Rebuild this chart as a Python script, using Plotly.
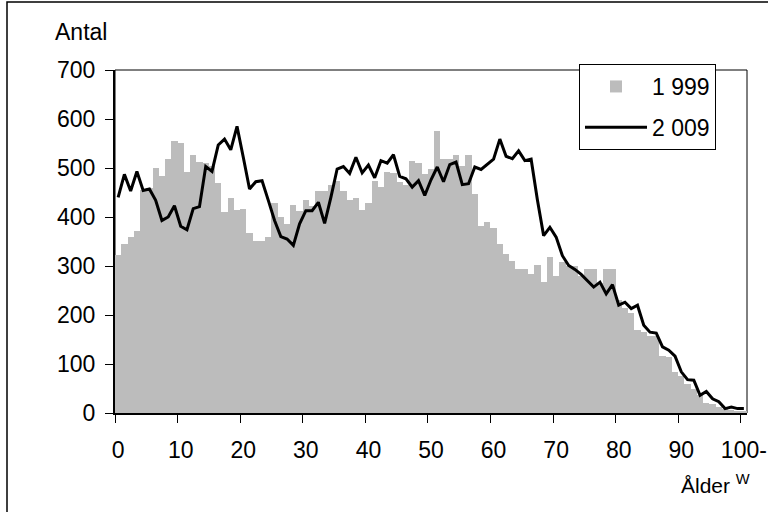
import plotly.graph_objects as go

ages = list(range(0, 101))
tick_vals = list(range(0, 101, 10))
tick_text = [str(v) for v in range(0, 100, 10)] + ["100-"]
y_ticks = list(range(0, 701, 100))

pop_1999 = [
    323, 344, 360, 372, 455, 460, 499, 483, 519, 556,
    552, 491, 527, 512, 511, 505, 470, 410, 438, 414,
    417, 368, 352, 352, 360, 429, 401, 385, 425, 413,
    434, 423, 454, 454, 466, 474, 454, 435, 438, 414,
    429, 474, 462, 491, 490, 472, 465, 515, 511, 487,
    498, 576, 519, 519, 527, 505, 527, 446, 381, 389,
    377, 344, 324, 311, 294, 294, 284, 303, 267, 319,
    279, 308, 300, 299, 280, 294, 294, 265, 294, 294,
    230, 215, 205, 170, 165, 158, 158, 116, 114, 84,
    75, 60, 48, 36, 20, 18, 12, 9, 6, 5,
    5,
]

pop_2009 = [
    440, 487, 453, 493, 454, 457, 434, 393, 400, 423,
    381, 374, 417, 421, 503, 493, 547, 559, 537, 585,
    522, 457, 472, 474, 434, 393, 360, 355, 342, 386,
    413, 413, 430, 387, 440, 498, 503, 489, 522, 490,
    506, 480, 515, 510, 527, 483, 478, 461, 474, 444,
    476, 502, 472, 507, 512, 466, 468, 502, 497, 507,
    518, 559, 524, 519, 535, 515, 518, 435, 362, 379,
    359, 321, 301, 293, 283, 270, 257, 267, 243, 262,
    220, 226, 213, 220, 179, 165, 163, 135, 128, 116,
    84, 68, 67, 36, 44, 29, 23, 9, 12, 9,
    9,
]

boundaries = [v - 0.5 for v in tick_vals]
FONT = "Liberation Sans, Arial, sans-serif"
FS = 23

fig = go.Figure()
fig.add_trace(go.Bar(
    x=ages, y=pop_1999, name="1 999", legendgroup="a",
    marker=dict(color="#bcbcbc", line=dict(width=0)),
))
fig.add_trace(go.Scatter(
    x=ages, y=pop_2009, name="2 009", legendgroup="b", mode="lines",
    line=dict(color="black", width=3),
))

fig.update_layout(
    width=768, height=512,
    margin=dict(l=115, r=21, t=70, b=99),
    paper_bgcolor="white", plot_bgcolor="white",
    font=dict(family=FONT, size=FS, color="black"),
    bargap=0,
    showlegend=True,
    legend=dict(
        x=(579 - 115) / 632, y=(412.7 - 64) / 342.7,
        xanchor="left", yanchor="top",
        bgcolor="white", bordercolor="black", borderwidth=1,
        font=dict(family=FONT, size=FS, color="black"),
        itemwidth=62, tracegroupgap=8,
    ),
    xaxis=dict(
        range=[-0.5, 100.5], tickmode="array", tickvals=tick_vals, ticktext=tick_text,
        ticks="", showline=True, linecolor="black", linewidth=2,
        showgrid=False, zeroline=False, ticklabelstandoff=15, automargin=False,
        tickfont=dict(family=FONT, size=FS, color="black"),
        minor=dict(tickmode="array", tickvals=boundaries, ticks="outside",
                   ticklen=8, tickwidth=1, tickcolor="black", showgrid=False),
    ),
    xaxis2=dict(
        overlaying="x", anchor="y", side="bottom", range=[-0.5, 100.5],
        tickmode="array", tickvals=boundaries, ticks="inside", ticklen=8,
        tickwidth=1, tickcolor="black", showticklabels=False, automargin=False,
        showline=False, showgrid=False, zeroline=False,
    ),
    yaxis=dict(
        range=[0, 700], tickmode="array", tickvals=y_ticks,
        ticks="outside", ticklen=8, tickwidth=1, tickcolor="black",
        showline=True, linecolor="black", linewidth=2, automargin=False,
        showgrid=False, zeroline=False, ticklabelstandoff=5,
        tickfont=dict(family=FONT, size=FS, color="black"),
    ),
    yaxis2=dict(
        overlaying="y", anchor="x", side="left", range=[0, 700],
        tickmode="array", tickvals=y_ticks, ticks="inside", ticklen=8,
        tickwidth=1, tickcolor="black", showticklabels=False, automargin=False,
        showline=False, showgrid=False, zeroline=False,
    ),
    shapes=[
        dict(type="rect", xref="paper", yref="paper", x0=0, x1=1, y0=0, y1=1,
             line=dict(color="black", width=1), layer="below"),
        dict(type="rect", xref="paper", yref="paper",
             x0=(7 - 115) / 632, x1=1.5, y0=(412.7 - 2) / 342.7, y1=-0.5,
             line=dict(color="black", width=1.5), layer="below"),
    ],
    annotations=[
        dict(text="Antal", xref="paper", yref="paper",
             x=(53 - 115) / 632, y=(412.7 - 32) / 342.7,
             xanchor="left", yanchor="middle", showarrow=False,
             font=dict(family=FONT, size=FS, color="black")),
        dict(text="Ålder <sup>W</sup>", xref="paper", yref="paper",
             x=(679 - 115) / 632, y=(412.7 - 484) / 342.7,
             xanchor="left", yanchor="middle", showarrow=False,
             font=dict(family=FONT, size=FS - 2, color="black")),
    ],
)

fig.write_html("out.html", config={"displayModeBar": False},
               post_script="document.body.style.margin='0px';")
